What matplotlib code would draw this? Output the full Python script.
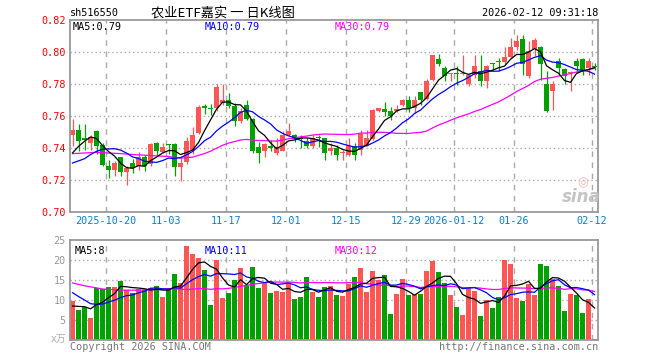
import matplotlib
matplotlib.use('Agg')
import matplotlib.pyplot as plt
import numpy as np
import pandas as pd

plt.rcParams['font.family'] = ['DejaVu Sans Mono', 'Noto Sans CJK SC']

# ---------------- data ----------------
opens = [0.748, 0.7515, 0.746, 0.7431, 0.7508, 0.742, 0.7285, 0.7265, 0.7344, 0.725,
         0.7306, 0.7285, 0.7344, 0.7302, 0.7431, 0.7375, 0.7425, 0.7427, 0.728, 0.7312,
         0.739, 0.7494, 0.7665, 0.7646, 0.765, 0.7681, 0.7702, 0.7665, 0.7567, 0.767,
         0.7583, 0.7406, 0.7379, 0.7413, 0.7369, 0.7383, 0.7479, 0.7483, 0.746, 0.7446,
         0.741, 0.7465, 0.7463, 0.7379, 0.740, 0.7367, 0.7358, 0.7415, 0.739, 0.7415,
         0.7456, 0.7629, 0.7646, 0.7629, 0.7629, 0.7667, 0.7698, 0.765, 0.7748, 0.7705,
         0.7827, 0.7958, 0.790, 0.7863, 0.7865, 0.786, 0.7802, 0.7858, 0.7883, 0.7817,
         0.7929, 0.7946, 0.7935, 0.7967, 0.8029, 0.8083, 0.7848, 0.8019, 0.8029, 0.780,
         0.7754, 0.7946, 0.7896, 0.7867, 0.7946, 0.7958, 0.790, 0.791]
highs = [0.758, 0.7552, 0.7552, 0.748, 0.751, 0.743, 0.7325, 0.7317, 0.7346, 0.7285,
         0.733, 0.7375, 0.7358, 0.743, 0.7435, 0.743, 0.7427, 0.743, 0.7335, 0.7469,
         0.753, 0.767, 0.7677, 0.7677, 0.780, 0.7802, 0.7744, 0.768, 0.765, 0.7702,
         0.7585, 0.744, 0.7431, 0.7452, 0.7463, 0.7504, 0.7556, 0.7485, 0.7479, 0.746,
         0.7483, 0.7483, 0.7465, 0.7431, 0.742, 0.739, 0.7463, 0.7431, 0.751, 0.751,
         0.7646, 0.765, 0.7685, 0.7656, 0.767, 0.7706, 0.7727, 0.7723, 0.775, 0.7833,
         0.7983, 0.7988, 0.791, 0.7869, 0.791, 0.798, 0.7865, 0.798, 0.7979, 0.792,
         0.7931, 0.7963, 0.8029, 0.8088, 0.8108, 0.8108, 0.8071, 0.8088, 0.8035, 0.788,
         0.7817, 0.7963, 0.790, 0.788, 0.7963, 0.7963, 0.7963, 0.7931]
lows = [0.741, 0.7379, 0.739, 0.739, 0.736, 0.729, 0.7212, 0.7223, 0.7223, 0.7171,
        0.7244, 0.726, 0.7254, 0.729, 0.7358, 0.7369, 0.736, 0.7225, 0.7192, 0.7302,
        0.7365, 0.749, 0.761, 0.7608, 0.763, 0.7671, 0.765, 0.7535, 0.7556, 0.7577,
        0.7369, 0.7306, 0.7344, 0.7379, 0.7358, 0.7379, 0.7473, 0.744, 0.740, 0.740,
        0.740, 0.7406, 0.7327, 0.7358, 0.7323, 0.7323, 0.7348, 0.7327, 0.7358, 0.741,
        0.745, 0.7623, 0.7602, 0.7577, 0.7625, 0.766, 0.7623, 0.762, 0.767, 0.770,
        0.7817, 0.791, 0.7817, 0.782, 0.7796, 0.7858, 0.779, 0.7838, 0.7785, 0.7775,
        0.789, 0.7879, 0.7925, 0.7963, 0.8015, 0.7854, 0.7838, 0.7973, 0.7827, 0.7623,
        0.764, 0.7858, 0.780, 0.7754, 0.7869, 0.7858, 0.7858, 0.789]
closes = [0.7515, 0.7446, 0.745, 0.747, 0.7415, 0.7296, 0.726, 0.7306, 0.725, 0.7275,
          0.7275, 0.7344, 0.7285, 0.7427, 0.7383, 0.7406, 0.742, 0.728, 0.7306, 0.7446,
          0.7483, 0.7656, 0.765, 0.7642, 0.7781, 0.7702, 0.7665, 0.7567, 0.7633, 0.7583,
          0.7383, 0.7369, 0.7427, 0.7398, 0.7406, 0.7483, 0.7508, 0.7458, 0.7456, 0.741,
          0.7463, 0.746, 0.7369, 0.740, 0.7358, 0.737, 0.741, 0.7358, 0.7488, 0.7463,
          0.7635, 0.765, 0.7625, 0.7602, 0.7644, 0.7702, 0.765, 0.7698, 0.7702, 0.7817,
          0.7979, 0.7925, 0.7848, 0.7865, 0.7863, 0.7865, 0.7858, 0.7915, 0.7817, 0.7915,
          0.7925, 0.7935, 0.7967, 0.8029, 0.8067, 0.7925, 0.8008, 0.8077, 0.7927, 0.7633,
          0.780, 0.790, 0.7848, 0.7871, 0.791, 0.7879, 0.7946, 0.7906]
volumes = [9.75, 7.5, 8.33, 5.6, 13, 12.75, 13.25, 13.25, 14.8, 12.5,
           11.7, 12.7, 12.4, 13.1, 13.5, 10.75, 12.5, 16.5, 14.2, 23.5,
           21.6, 20.6, 17.6, 8.75, 20, 10.6, 11.75, 15.1, 18, 13.7,
           18.25, 13.1, 14.2, 11.75, 12.25, 12.1, 14.2, 10.3, 10.8, 15.75,
           12.1, 10.8, 13.25, 13.5, 11.25, 11, 14.1, 15.75, 18, 12,
           17.25, 15, 16.25, 6.5, 11.5, 15.25, 11.25, 11.5, 11.5, 17.3,
           19.75, 17, 14.25, 11.25, 8.25, 6.25, 13.1, 12.25, 6, 10,
           8, 10.75, 20, 19, 10.5, 9.75, 14.1, 11.25, 19, 18.5,
           15.2, 13.5, 7.25, 11.5, 11.25, 6.75, 10.3, 0.2]
# closes / volumes of the 29 sessions before the window (estimated from the MA lines)
prior_closes = [0.7386, 0.739, 0.741, 0.7355, 0.7356, 0.732, 0.7366, 0.731, 0.7341, 0.7372,
                0.741, 0.7351, 0.7493, 0.7443, 0.7466, 0.748, 0.743, 0.7456, 0.7356, 0.7393,
                0.7313, 0.7313, 0.7213, 0.7213, 0.7164, 0.7241, 0.729, 0.7335, 0.7464]
prior_volumes = [18, 18.83, 13.6, 21, 20.75, 16.25, 16.25, 17.8, 12.5, 11.7,
                 12.7, 10.7, 11.4, 11.9, 7.25, 9.0, 18.8, 16.6, 25.9, 18.6,
                 17, 17.1, 14.8, 14.8, 12.1, 8.0, 8.65, 8.3, 7.8]
tick_labels = ['2025-10-20', '11-03', '11-17', '12-01', '12-15', '12-29',
               '2026-01-12', '01-26', '02-12']
tick_index = [6, 16, 26, 36, 46, 56, 64, 74, 87]

# ---------------- computation ----------------
o = np.array(opens); h = np.array(highs); l = np.array(lows); c = np.array(closes)
v = np.array(volumes)
n = len(c)
x = np.arange(n)
allc = pd.Series(prior_closes + closes)
allv = pd.Series(prior_volumes + volumes)
ma5 = allc.rolling(5).mean().values[-n:]
ma10 = allc.rolling(10).mean().values[-n:]
ma30 = allc.rolling(30).mean().values[-n:]
vma5 = allv.rolling(5).mean().values[-n:]
vma10 = allv.rolling(10).mean().values[-n:]
vma30 = allv.rolling(30).mean().values[-n:]

RED = '#ff5555'
GREEN = '#00a000'
GRID = '#aaaaaa'
FRAME = '#999999'
up = c >= o
colors = np.where(up, RED, GREEN)

W, H = 660, 360
fig = plt.figure(figsize=(6.6, 3.6), dpi=100)
def fx(px): return px / W
def fy(py): return 1 - py / H

ax1 = fig.add_axes([fx(70), fy(212), 528 / W, 192 / H])
ax2 = fig.add_axes([fx(70), fy(340), 528 / W, 100 / H])
XMIN, XMAX = -0.42, 87.58
grid_x = [i - 0.42 for i in tick_index]

for ax in (ax1, ax2):
    ax.set_xlim(XMIN, XMAX)
    for s in ax.spines.values():
        s.set_color(FRAME)
        s.set_linewidth(1.3)
    for gx in grid_x:
        ax.axvline(gx, color=GRID, lw=1.0, ls=(0, (4, 4)), zorder=0)
    ax.tick_params(length=0)

# price panel
ax1.set_ylim(0.70, 0.82)
for gy in [0.72, 0.74, 0.76, 0.78, 0.80]:
    ax1.axhline(gy, color=GRID, lw=1.0, ls=(0, (1, 2)), zorder=0)
ax1.vlines(x, l, h, colors=colors, lw=0.9, zorder=2)
body_bottom = np.minimum(o, c)
body_h = np.maximum(np.abs(c - o), 0.0006)
ax1.bar(x, body_h, 0.8, bottom=body_bottom, color=colors, lw=0, zorder=2)
ax1.plot(x, ma30, color='#ff00ff', lw=0.9, zorder=3)
ax1.plot(x, ma10, color='#0000ff', lw=0.9, zorder=3)
ax1.plot(x, ma5, color='#000000', lw=0.9, zorder=3)

yt = [0.70, 0.72, 0.74, 0.76, 0.78, 0.80, 0.82]
ax1.set_yticks(yt)
ax1.set_yticklabels([f'{t:.2f}' for t in yt], color='#ff0000', fontsize=7.3)
ax1.set_xticks(grid_x)
ax1.set_xticklabels(tick_labels, color='#0a7fd0', fontsize=7.3)
ax1.tick_params(axis='y', pad=3)
ax1.tick_params(axis='x', pad=3)

ax1.text(fx(73), fy(27), f'MA5:{ma5[-1]:.2f}', transform=fig.transFigure,
         color='#000000', fontsize=7.3, va='center', ha='left')
ax1.text(fx(205), fy(27), f'MA10:{ma10[-1]:.2f}', transform=fig.transFigure,
         color='#0000ff', fontsize=7.3, va='center', ha='left')
ax1.text(fx(335), fy(27), f'MA30:{ma30[-1]:.2f}', transform=fig.transFigure,
         color='#ff00ff', fontsize=7.3, va='center', ha='left')

# sina watermark
fig.text(fx(581), fy(197), 'sina', color='#c4c4c4', fontsize=12, fontstyle='italic',
         fontweight='bold', family='DejaVu Sans', ha='center', va='center')
fig.text(fx(583), fy(183), '◎', color='#f2b4b4', fontsize=9, family='DejaVu Sans',
         ha='center', va='center')

# volume panel
ax2.set_ylim(0, 25)
for gy in [5, 10, 15, 20]:
    ax2.axhline(gy, color=GRID, lw=1.0, ls=(0, (1, 2)), zorder=0)
ax2.bar(x, v, 0.8, color=colors, lw=0, zorder=2)
ax2.plot(x, vma30, color='#ff00ff', lw=0.9, zorder=3)
ax2.plot(x, vma10, color='#0000ff', lw=0.9, zorder=3)
ax2.plot(x, vma5, color='#000000', lw=0.9, zorder=3)
ax2.set_yticks([5, 10, 15, 20, 25])
ax2.set_yticklabels(['5', '10', '15', '20', '25'], color='#999999', fontsize=7.3)
ax2.tick_params(axis='y', pad=3)
ax2.set_xticks(grid_x)
ax2.set_xticklabels([])
fig.text(fx(66), fy(339), 'x万', color='#aaaaaa', fontsize=7, ha='right', va='center')

ax2.text(fx(75), fy(251), f'MA5:{vma5[-1]:.0f}', transform=fig.transFigure,
         color='#000000', fontsize=7.3, va='center', ha='left')
ax2.text(fx(205), fy(251), f'MA10:{vma10[-1]:.0f}', transform=fig.transFigure,
         color='#0000ff', fontsize=7.3, va='center', ha='left')
ax2.text(fx(335), fy(251), f'MA30:{vma30[-1]:.0f}', transform=fig.transFigure,
         color='#ff00ff', fontsize=7.3, va='center', ha='left')

# header and footer
fig.text(fx(70), fy(13), 'sh516550', color='#000000', fontsize=7.3, ha='left', va='center')
fig.text(fx(151), fy(13), '农业ETF嘉实 一 日K线图', color='#000000', fontsize=9.5,
         family=['Noto Sans CJK SC', 'DejaVu Sans'], ha='left', va='center')
fig.text(fx(598), fy(13), '2026-02-12 09:31:18', color='#000000', fontsize=7.3,
         ha='right', va='center')
fig.text(fx(70), fy(347), 'Copyright 2026 SINA.COM', color='#777777', fontsize=7.3,
         ha='left', va='center')
fig.text(fx(598), fy(347), 'http://finance.sina.com.cn', color='#777777', fontsize=7.3,
         ha='right', va='center')

fig.savefig('out.png', dpi=100, facecolor='white')
